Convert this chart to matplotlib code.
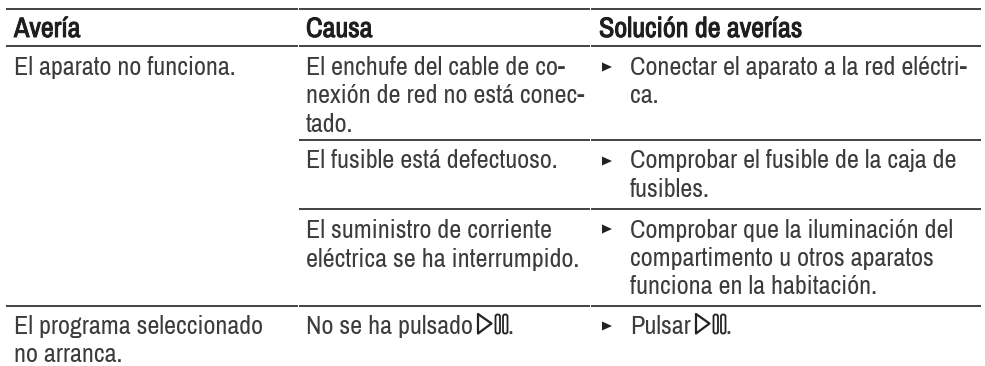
"""Troubleshooting table from an appliance manual, rebuilt with matplotlib."""

import matplotlib
matplotlib.use("Agg")
import matplotlib.pyplot as plt
import matplotlib.patheffects as pe
from matplotlib.patches import FancyBboxPatch, Polygon

WIDTH, HEIGHT = 985, 366
INK = "#3c3c3c"
FAMILY = ["Archivo Narrow", "Liberation Sans", "DejaVu Sans"]
BODY_SIZE = 18.8
HEAD_SIZE = 20.2

HEADERS = ["Avería", "Causa", "Solución de averías"]
COLUMN_X = [14, 306, 630]
HEADER_X = [14, 306, 599]
HEADER_BASE = 37

# (text, baseline in px)
AVERIA = [
    ("El aparato no funciona.", 75),
    ("El programa seleccionado", 334),
    ("no arranca.", 362),
]
CAUSA = [
    ("El enchufe del cable de co-", 75),
    ("nexión de red no está conec-", 103),
    ("tado.", 132),
    ("El fusible está defectuoso.", 168),
    ("El suministro de corriente", 238),
    ("eléctrica se ha interrumpido.", 267),
    ("No se ha pulsado", 334),
]
SOLUCION = [
    ("Conectar el aparato a la red eléctri-", 75),
    ("ca.", 103),
    ("Comprobar el fusible de la caja de", 168),
    ("fusibles.", 197),
    ("Comprobar que la iluminación del", 238),
    ("compartimento u otros aparatos", 266),
    ("funciona en la habitación.", 294),
    ("Pulsar", 334),
]

# rules: y, x start, x end
RULES = [
    (9, 6, 298), (9, 298.5, 590), (9, 590.5, 981),
    (46, 6, 298), (46, 298.5, 590), (46, 590.5, 981),
    (140, 298.5, 590), (140, 590.5, 981),
    (209, 298.5, 590), (209, 590.5, 981),
    (306, 6, 298), (306, 298.5, 590), (306, 590.5, 981),
]
BULLET_Y = [67, 161, 229, 326]
PLAY_PAUSE_X = [477, 695]


def draw_play_pause(ax, x):
    # outlined play triangle with two narrow pause bars and a full stop
    ax.add_patch(Polygon([(x + 1, 314), (x + 14.5, 323.5), (x + 1, 333.5)], closed=True,
                         fill=False, edgecolor="#222222", linewidth=1.6, joinstyle="round"))
    for bar_x in (x + 18.5, x + 26):
        ax.add_patch(FancyBboxPatch((bar_x, 314.5), 4.5, 19,
                                    boxstyle="round,pad=0,rounding_size=2",
                                    fill=False, edgecolor="#222222", linewidth=1.3))
    ax.text(x + 30, 334, ".", family=FAMILY, fontsize=BODY_SIZE, color=INK, va="baseline")


fig = plt.figure(figsize=(WIDTH / 100, HEIGHT / 100), dpi=100, facecolor="white")
ax = fig.add_axes([0, 0, 1, 1])
ax.set_xlim(0, WIDTH)
ax.set_ylim(HEIGHT, 0)
ax.axis("off")

for y, x0, x1 in RULES:
    ax.plot([x0, x1], [y, y], color="#333333", linewidth=1.3, solid_capstyle="butt")

# the narrow face has no bold cut here, so thicken the headers with a thin stroke
for label, x in zip(HEADERS, HEADER_X):
    ax.text(x, HEADER_BASE, label, family=FAMILY, fontsize=HEAD_SIZE, color="#1e1e1e", va="baseline",
            path_effects=[pe.withStroke(linewidth=0.7, foreground="#1e1e1e")])

for rows, x in zip((AVERIA, CAUSA, SOLUCION), COLUMN_X):
    for text, base in rows:
        ax.text(x, base, text, family=FAMILY, fontsize=BODY_SIZE, color=INK, va="baseline")

for y in BULLET_Y:
    ax.add_patch(Polygon([(602, y - 4.5), (612, y), (602, y + 4.5)], closed=True,
                         facecolor="#222222", edgecolor="none"))

for x in PLAY_PAUSE_X:
    draw_play_pause(ax, x)

fig.savefig("out.png", dpi=100, facecolor="white")
plt.close(fig)
